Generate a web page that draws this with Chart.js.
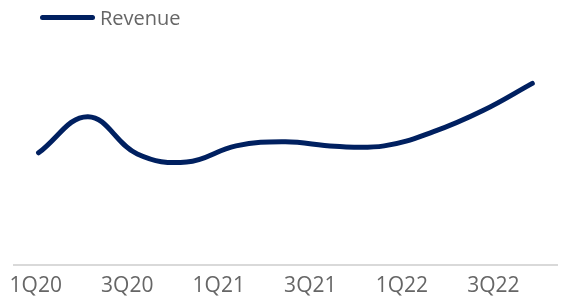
<!DOCTYPE html>
<html>
<head>
<meta charset="utf-8">
<script src="https://cdn.jsdelivr.net/npm/chart.js@4/dist/chart.umd.min.js"></script>
<style>
  html, body { margin: 0; padding: 0; background: #fff; }
  #wrap { position: relative; width: 561px; height: 296px; }
  #legend {
    position: absolute; left: 40px; top: 4px;
    display: flex; align-items: center;
    font-family: "Open Sans", sans-serif; font-size: 20px; color: #666;
  }
  #legend .swatch {
    display: inline-block; width: 55px; height: 5px; border-radius: 3px;
    background: #002060; margin-right: 5px;
  }
</style>
</head>
<body>
<div id="wrap">
  <canvas id="chart" width="561" height="296"></canvas>
  <div id="legend"><span class="swatch"></span><span>Revenue</span></div>
</div>
<script>
// Кварталы (категории) и значения выручки
const quarters = ['1Q20', '2Q20', '3Q20', '4Q20', '1Q21', '2Q21', '3Q21', '4Q21', '1Q22', '2Q22', '3Q22'];
const revenue = [49.8, 65.9, 49.3, 45.7, 52.9, 54.7, 52.7, 52.9, 59.2, 68.6, 80.7];
// Подписи оси показаны через один квартал
const tickIndexes = [0, 2, 4, 6, 8, 10];

const lineColor = '#002060';

new Chart(document.getElementById('chart').getContext('2d'), {
    type: 'line',
    data: {
        labels: quarters,
        datasets: [{
            label: 'Revenue',
            data: revenue,
            borderColor: lineColor,
            backgroundColor: lineColor,
            borderWidth: 5,
            borderCapStyle: 'round',
            tension: 0.4,
            pointRadius: 0,
            fill: false
        }]
    },
    options: {
        responsive: false,
        animation: false,
        devicePixelRatio: 1,
        layout: { padding: { top: 40, left: 11, right: 4, bottom: -12 } },
        plugins: {
            legend: { display: false },
            tooltip: { enabled: false }
        },
        scales: {
            x: {
                type: 'category',
                display: false,
                offset: true
            },
            // отдельная ось только для подписей (они стоят чуть плотнее точек)
            xl: {
                type: 'linear',
                position: 'bottom',
                min: -0.478,
                max: 11.391,
                afterBuildTicks: axis => {
                    axis.ticks = tickIndexes.map(v => ({ value: v }));
                },
                grid: { display: false, drawTicks: false },
                border: { display: true, color: '#d9d9d9', width: 2 },
                ticks: {
                    autoSkip: false,
                    maxRotation: 0,
                    padding: 9,
                    color: '#666',
                    font: { family: 'Open Sans', size: 21 },
                    callback: value => quarters[value]
                }
            },
            y: {
                display: false,
                min: 0,
                max: 100
            }
        }
    }
});
</script>
</body>
</html>
